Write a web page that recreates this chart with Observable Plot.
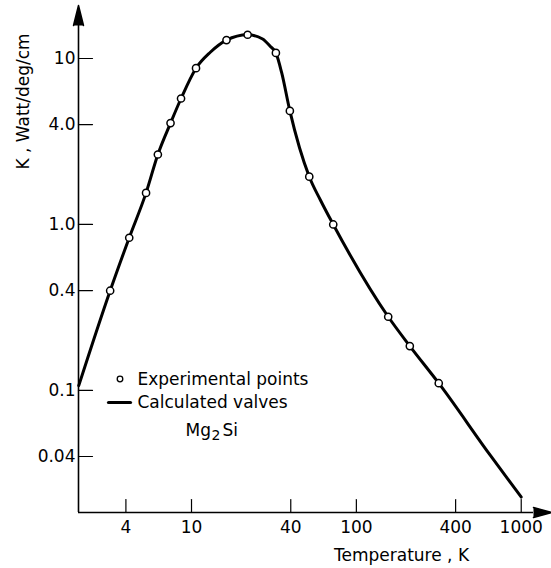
<!DOCTYPE html>
<html>
<head>
<meta charset="utf-8">
<script src="https://cdn.jsdelivr.net/npm/d3@7"></script>
<script src="https://cdn.jsdelivr.net/npm/@observablehq/plot@0.6"></script>
<style>
  html, body { margin: 0; padding: 0; background: #fff; }
</style>
</head>
<body>
<div id="chart"></div>
<script>
// Thermal conductivity of Mg2Si versus temperature (log–log)

// Experimental points
const tempExp = [3.21, 4.19, 5.30, 6.25, 7.46, 8.64, 10.65, 16.3, 21.9, 32.5, 39.5, 51.8, 72.4, 156, 211, 316];
const kExp    = [0.399, 0.832, 1.55, 2.64, 4.08, 5.74, 8.74, 12.9, 13.9, 10.8, 4.83, 1.94, 1.0, 0.278, 0.185, 0.1106];

// Calculated values (smooth curve)
const tempCalc = [2.07, 3.21, 4.19, 5.30, 6.25, 7.46, 8.64, 10.65, 13.0, 16.3, 21.9, 27.0, 30.1, 32.5, 35.2, 39.5, 51.8, 60.6, 72.4, 156, 211, 316, 650, 1000];
const kCalc    = [0.107, 0.399, 0.832, 1.55, 2.64, 4.08, 5.74, 8.74, 10.9, 12.9, 13.9, 13.1, 11.8, 10.8, 8.24, 4.83, 1.94, 1.40, 1.0, 0.278, 0.185, 0.1106, 0.0406, 0.0228];

// Axis ticks and their labels
const xTicks = [4, 10, 40, 100, 400, 1000];
const xTickLabels = ["4", "10", "40", "100", "400", "1000"];
const yTicks = [10, 4, 1, 0.4, 0.1, 0.04];
const yTickLabels = ["10", "4.0", "1.0", "0.4", "0.1", "0.04"];

// Axis domains
const xDomain = [2.063, 1187];
const yDomain = [0.0184, 15.8];

const experimental = tempExp.map((t, i) => ({t, k: kExp[i]}));
const calculated = tempCalc.map((t, i) => ({t, k: kCalc[i]}));

// a plain straight stroke used for tick marks and the legend line
const stroke = {draw(context, l) { context.moveTo(0, 0); context.lineTo(0, -l); }};

const font = "DejaVu Sans";
const note = {frameAnchor: "top-left", textAnchor: "start", lineAnchor: "middle", fontSize: 17};

const chart = Plot.plot({
  width: 551,
  height: 568,
  marginTop: 25,
  marginBottom: 56,
  marginLeft: 78,
  marginRight: 18,
  x: {type: "log", domain: xDomain, axis: null},
  y: {type: "log", domain: yDomain, axis: null},
  style: {fontFamily: font, fontSize: "17px", background: "white", color: "black"},
  marks: [
    // axis lines
    Plot.ruleX([xDomain[0]], {stroke: "black", strokeWidth: 1.6}),
    Plot.ruleY([yDomain[0]], {stroke: "black", strokeWidth: 1.6}),
    // arrow heads
    Plot.vector([0], {frameAnchor: "top-left", length: 20, r: 5, shape: "spike", anchor: "start", fill: "black", stroke: "black"}),
    Plot.vector([0], {frameAnchor: "bottom-right", rotate: 90, length: 18, r: 5, shape: "spike", anchor: "start", fill: "black", stroke: "black"}),
    // inward ticks
    Plot.vector(yTicks, {y: d => d, frameAnchor: "left", rotate: 90, length: 14, anchor: "start", shape: stroke, stroke: "black", strokeWidth: 1.2}),
    Plot.vector(xTicks, {x: d => d, frameAnchor: "bottom", length: 13, anchor: "start", shape: stroke, stroke: "black", strokeWidth: 1.2}),
    // tick labels
    Plot.text(yTicks, {y: d => d, text: (d, i) => yTickLabels[i], frameAnchor: "left", dx: -3, textAnchor: "end", lineAnchor: "middle", fontSize: 17}),
    Plot.text(xTicks, {x: d => d, text: (d, i) => xTickLabels[i], frameAnchor: "bottom", dy: 8, textAnchor: "middle", lineAnchor: "top", fontSize: 17}),
    // axis titles
    Plot.text(["K , Watt/deg/cm"], {frameAnchor: "top-left", rotate: -90, dx: -55, dy: 76, textAnchor: "middle", lineAnchor: "middle", fontSize: 17}),
    Plot.text(["Temperature , K"], {frameAnchor: "top-left", dx: 323, dy: 530, textAnchor: "middle", lineAnchor: "middle", fontSize: 17}),
    // calculated curve
    Plot.line(calculated, {x: "t", y: "k", curve: "monotone-x", stroke: "black", strokeWidth: 3}),
    // experimental points
    Plot.dot(experimental, {x: "t", y: "k", r: 3.6, fill: "white", stroke: "black", strokeWidth: 1.5}),
    // legend
    Plot.dot([0], {frameAnchor: "top-left", dx: 41.5, dy: 353.5, r: 2.8, fill: "white", stroke: "black", strokeWidth: 1.3}),
    Plot.text(["Experimental points"], {...note, dx: 59, dy: 354}),
    Plot.vector([0], {frameAnchor: "top-left", dx: 30, dy: 377, rotate: 90, length: 22, anchor: "start", shape: stroke, stroke: "black", strokeWidth: 3.2}),
    Plot.text(["Calculated valves"], {...note, dx: 59, dy: 377}),
    Plot.text(["Mg"], {...note, dx: 107, dy: 405}),
    Plot.text(["2"], {...note, dx: 133, dy: 410, fontSize: 14}),
    Plot.text(["Si"], {...note, dx: 144, dy: 405})
  ]
});

document.getElementById("chart").appendChild(chart);
</script>
</body>
</html>
